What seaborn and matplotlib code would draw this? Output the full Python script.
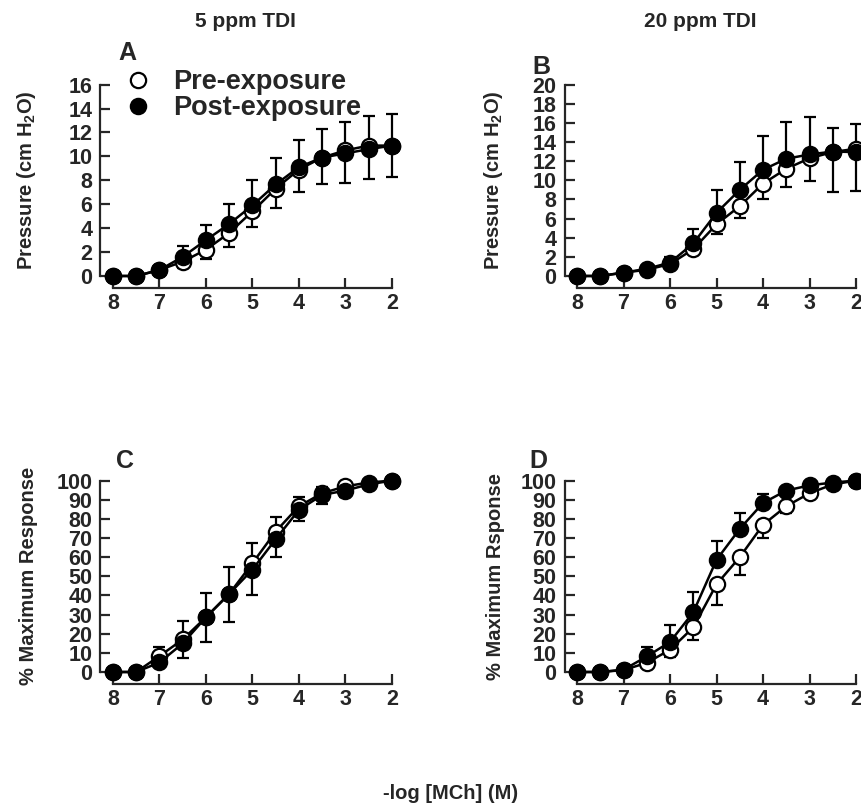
import numpy as np
import pandas as pd
import seaborn as sns
import matplotlib.pyplot as plt
from matplotlib.lines import Line2D

# Data

log_mch = [8, 7.5, 7, 6.5, 6, 5.5, 5, 4.5, 4, 3.5, 3, 2.5, 2]

# A: 5 ppm TDI, pressure (cm H2O)
pre_a = [0, 0, 0.5, 1.2, 2.2, 3.6, 5.4, 7.3, 8.9, 9.9, 10.5, 10.9, 10.9]
post_a = [0, 0, 0.5, 1.6, 3.0, 4.35, 5.9, 7.65, 9.1, 9.9, 10.25, 10.6, 10.9]
pre_a_lo = [0, 0, 0, 0.5, 0.8, 1.2, 1.3, 1.6, 1.9, 2.2, 2.7, 2.8, 2.6]
post_a_hi = [0, 0, 0.1, 0.9, 1.3, 1.7, 2.1, 2.25, 2.25, 2.4, 2.65, 2.8, 2.65]

# B: 20 ppm TDI, pressure (cm H2O)
pre_b = [0, 0, 0.35, 0.65, 1.25, 2.8, 5.4, 7.3, 9.65, 11.2, 12.3, 12.95, 13.3]
post_b = [0, 0, 0.35, 0.75, 1.4, 3.4, 6.6, 9.0, 11.1, 12.25, 12.7, 13.0, 12.95]
pre_b_lo = [0, 0, 0, 0.3, 0.3, 0.5, 1.0, 1.25, 1.6, 1.95, 2.35, 4.2, 4.4]
post_b_hi = [0, 0, 0.1, 0.3, 0.6, 1.5, 2.35, 2.95, 3.5, 3.85, 3.95, 2.5, 2.9]

# C: 5 ppm TDI, % maximum response
pre_c = [0, 0, 8.3, 17, 28.6, 40.8, 56.8, 73.4, 86.6, 93.4, 97, 99, 100]
post_c = [0, 0, 5.0, 14.9, 28.6, 40.8, 53.5, 69.4, 84.7, 92.5, 94.8, 98, 100]
pre_c_hi = [0, 0, 4.8, 9.4, 12.8, 14.3, 10.6, 7.6, 5.0, 3.0, 1.5, 1.0, 0]
post_c_lo = [0, 0, 2.3, 7.8, 13.1, 14.8, 13.5, 9.2, 6.0, 4.5, 3.2, 2.0, 0]

# D: 20 ppm TDI, % maximum response
pre_d = [0, 0, 1, 4.8, 11.6, 23.3, 45.8, 60, 76.9, 86.6, 93.4, 98, 100]
post_d = [0, 0, 1.2, 8.1, 15.7, 31.2, 58.6, 74.8, 88.3, 94.8, 97.5, 99, 100]
pre_d_lo = [0, 0, 0, 2.2, 3.6, 6.6, 10.8, 9.1, 6.9, 3.6, 2.2, 2.0, 0]
post_d_hi = [0, 0, 0.5, 5.0, 9.0, 10.8, 9.8, 8.4, 4.5, 1.0, 0.5, 0.5, 0]

titles = ["5 ppm TDI", "20 ppm TDI"]
letters = ["A", "B", "C", "D"]
ylabels = ["Pressure (cm H$_2$O)", "Pressure (cm H$_2$O)",
           "% Maximum Response", "% Maximum Rsponse"]
yticks = [np.arange(0, 17, 2), np.arange(0, 21, 2),
          np.arange(0, 101, 10), np.arange(0, 101, 10)]

panels = [
    (pre_a, post_a, pre_a_lo, post_a_hi, "lo", "hi"),
    (pre_b, post_b, pre_b_lo, post_b_hi, "lo", "hi"),
    (pre_c, post_c, pre_c_hi, post_c_lo, "hi", "lo"),
    (pre_d, post_d, pre_d_lo, post_d_hi, "lo", "hi"),
]

# Style

sns.set_style("ticks")
plt.rcParams['font.family'] = ['Liberation Sans', 'DejaVu Sans']
plt.rcParams['font.weight'] = 'bold'
plt.rcParams['mathtext.fontset'] = 'custom'
plt.rcParams['mathtext.rm'] = 'Liberation Sans:bold'
plt.rcParams['mathtext.it'] = 'Liberation Sans:bold'
plt.rcParams['mathtext.bf'] = 'Liberation Sans:bold'

fig = plt.figure(figsize=(8.61, 8.11), dpi=100)

lefts = [0.1312, 0.6702]
bottoms = [0.6597, 0.1714]
w, h = 0.324, 0.236

axes = []
for r in range(2):
    for c in range(2):
        axes.append(fig.add_axes([lefts[c], bottoms[r], w, h]))

letter_pos = [(0.02, 1.10), (-0.16, 1.03), (0.01, 1.04), (-0.17, 1.04)]
ylab_x = [-0.27, -0.26, -0.27, -0.26]

for i, ax in enumerate(axes):
    pre, post, pre_err, post_err, pre_dir, post_dir = panels[i]
    df = pd.DataFrame({"x": log_mch, "pre": pre, "post": post})

    # error bars, one-sided
    for vals, err, d in [(pre, pre_err, pre_dir), (post, post_err, post_dir)]:
        err = np.array(err)
        zeros = np.zeros_like(err)
        yerr = [err, zeros] if d == "lo" else [zeros, err]
        ebar = ax.errorbar(log_mch, vals, yerr=yerr, fmt="none", ecolor="black",
                           elinewidth=1.6, capsize=4.5, capthick=1.6, zorder=2)
        for art in ebar.lines[1] + ebar.lines[2]:
            art.set_clip_on(False)

    sns.lineplot(data=df, x="x", y="pre", ax=ax, color="black", lw=1.8,
                 marker="o", markersize=11, markerfacecolor="white",
                 markeredgecolor="black", markeredgewidth=1.6, zorder=3,
                 clip_on=False)
    sns.lineplot(data=df, x="x", y="post", ax=ax, color="black", lw=1.8,
                 marker="o", markersize=11, markerfacecolor="black",
                 markeredgecolor="black", markeredgewidth=1.6, zorder=4,
                 clip_on=False)

    ax.set_xlim(8, 2)
    ax.set_xticks([8, 7, 6, 5, 4, 3, 2])
    ax.set_ylim(yticks[i][0], yticks[i][-1])
    ax.set_yticks(yticks[i])
    ax.tick_params(direction="in", length=7, width=1.6, labelsize=15.5)
    ax.tick_params(axis="x", pad=3)
    ax.tick_params(axis="y", pad=6)
    for lab in ax.get_xticklabels() + ax.get_yticklabels():
        lab.set_fontweight("bold")
    ax.set_xlabel("")
    ax.set_ylabel(ylabels[i], fontsize=14.5, fontweight="bold")
    ax.yaxis.set_label_coords(ylab_x[i], 0.5)
    for s in ax.spines.values():
        s.set_linewidth(1.6)
    sns.despine(ax=ax, offset=9)
    ax.spines["bottom"].set_bounds(2, 8)
    ax.spines["left"].set_bounds(yticks[i][0], yticks[i][-1])
    lx, ly = letter_pos[i]
    ax.text(lx, ly, letters[i], transform=ax.transAxes,
            fontsize=18, fontweight="bold", ha="left", va="bottom")

# legend in panel A
handles = [Line2D([], [], ls="none", marker="o", markersize=11, markerfacecolor="white",
                  markeredgecolor="black", markeredgewidth=1.6),
           Line2D([], [], ls="none", marker="o", markersize=11, markerfacecolor="black",
                  markeredgecolor="black", markeredgewidth=1.6)]
axes[0].legend(handles, ["Pre-exposure", "Post-exposure"], loc="upper left",
               bbox_to_anchor=(0.04, 1.08), frameon=False, borderpad=0,
               borderaxespad=0, handlelength=1.0, handletextpad=0.8,
               labelspacing=0.0, prop={"size": 19.5, "weight": "bold"})

fig.text(0.285, 0.974, titles[0], ha="center", va="center", fontsize=15, fontweight="bold")
fig.text(0.813, 0.974, titles[1], ha="center", va="center", fontsize=15, fontweight="bold")
fig.text(0.523, 0.022, "-log [MCh] (M)", ha="center", va="center", fontsize=14.5,
         fontweight="bold")

fig.savefig("out.png", dpi=100)
